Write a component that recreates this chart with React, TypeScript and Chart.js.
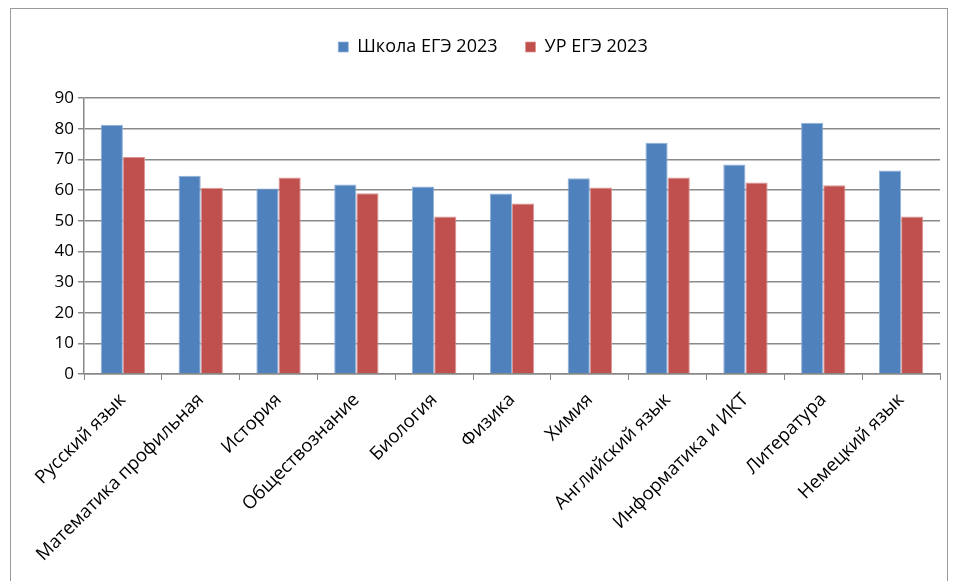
import React, { useEffect, useRef } from "react";
import { Chart, registerables } from "chart.js";

Chart.register(...registerables);

const categories = [
  "Русский язык",
  "Математика профильная",
  "История",
  "Обществознание",
  "Биология",
  "Физика",
  "Химия",
  "Английский язык",
  "Информатика и ИКТ",
  "Литература",
  "Немецкий язык",
];
const schoolValues = [81.3, 64.7, 60.5, 61.8, 61.2, 58.9, 63.9, 75.5, 68.4, 82.0, 66.4];
const regionValues = [70.8, 60.8, 64.1, 59.0, 51.4, 55.6, 60.9, 64.1, 62.5, 61.6, 51.4];
const seriesNames = ["Школа ЕГЭ 2023", "УР ЕГЭ 2023"];
const yMin = 0;
const yMax = 90;
const yStep = 10;

const FONT = "'Open Sans', 'Noto Sans', sans-serif";

export default function App() {
  const ref = useRef<HTMLCanvasElement | null>(null);
  useEffect(() => {
    document.body.style.margin = "0";
    if (!ref.current) return;
    const chart = new Chart(ref.current, {
      type: "bar",
      data: {
        labels: categories,
        datasets: [
          {
            label: seriesNames[0],
            data: schoolValues,
            backgroundColor: "#4F81BD",
            borderColor: "#8FB0DA",
            borderWidth: { top: 1, left: 1, right: 1, bottom: 0 },
          },
          {
            label: seriesNames[1],
            data: regionValues,
            backgroundColor: "#C0504D",
            borderColor: "#DC9593",
            borderWidth: { top: 1, left: 1, right: 1, bottom: 0 },
          },
        ],
      },
      options: {
        animation: false,
        responsive: false,
        maintainAspectRatio: false,
        layout: { padding: { left: 46, right: 17, top: 10, bottom: 0 } },
        datasets: { bar: { categoryPercentage: 0.57, barPercentage: 1 } },
        plugins: {
          legend: {
            position: "top",
            labels: {
              font: { family: FONT, size: 18 },
              color: "#000",
              boxWidth: 10,
              boxHeight: 10,
              padding: 28,
            },
          },
          subtitle: {
            display: true,
            text: "",
            position: "top",
            weight: 500,
            font: { size: 1 },
            padding: { top: 31, bottom: 0 },
          } as any,
          tooltip: { enabled: false },
        },
        scales: {
          x: {
            grid: {
              display: true,
              drawOnChartArea: false,
              drawTicks: true,
              tickLength: 6,
              color: "#888",
              lineWidth: 1,
              offset: true,
            },
            border: { display: true, color: "#888", width: 1.5 },
            ticks: {
              minRotation: 45,
              maxRotation: 45,
              autoSkip: false,
              font: { family: FONT, size: 18.5 },
              color: "#000",
              padding: 9,
            },
            afterFit: (scale: any) => {
              scale.height = 207;
            },
          },
          y: {
            min: yMin,
            max: yMax,
            ticks: {
              stepSize: yStep,
              font: { family: FONT, size: 17 },
              color: "#000",
              padding: 4,
            },
            grid: {
              color: "#8a8a8a",
              lineWidth: 1.5,
              tickLength: 6,
            },
            border: { display: true, color: "#888", width: 1.5 },
            afterFit: (scale: any) => {
              scale.width = 38;
            },
          },
        },
      },
    });
    return () => chart.destroy();
  }, []);
  return (
    <div style={{ position: "fixed", left: 0, top: 0, width: 957, height: 581, background: "#fff" }}>
      <div
        style={{
          position: "absolute",
          left: 10,
          top: 8,
          width: 938,
          height: 580,
          border: "1px solid #9a9a9a",
          boxSizing: "border-box",
        }}
      />
      <canvas ref={ref} width={957} height={581} style={{ position: "absolute", left: 0, top: 0 }} />
    </div>
  );
}
